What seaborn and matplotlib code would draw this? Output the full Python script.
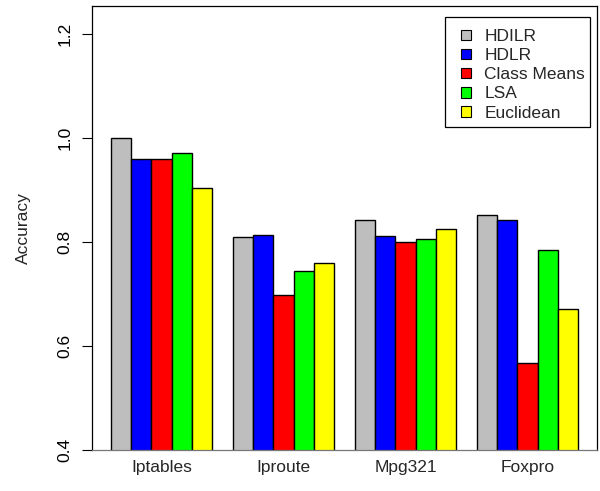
import matplotlib
matplotlib.use("Agg")
import matplotlib.pyplot as plt
from matplotlib.patches import Patch, Rectangle
import seaborn as sns
import pandas as pd

categories = ["Iptables", "Iproute", "Mpg321", "Foxpro"]
methods = ["HDILR", "HDLR", "Class Means", "LSA", "Euclidean"]
hdilr = [1.000, 0.809, 0.842, 0.852]
hdlr = [0.959, 0.813, 0.811, 0.842]
class_means = [0.959, 0.699, 0.800, 0.567]
lsa = [0.971, 0.744, 0.806, 0.785]
euclidean = [0.904, 0.759, 0.826, 0.672]
colors = ["#bebebe", "#0000ff", "#ff0000", "#00ff00", "#ffff00"]
y_ticks = [0.4, 0.6, 0.8, 1.0, 1.2]

series = [hdilr, hdlr, class_means, lsa, euclidean]
rows = []
for m, vals in zip(methods, series):
    for c, v in zip(categories, vals):
        rows.append({"Dataset": c, "Method": m, "Accuracy": v})
df = pd.DataFrame(rows)

sns.set_style("white")
plt.rcParams["font.family"] = ["Liberation Sans", "DejaVu Sans"]

FS = 12.5
W, H = 600, 491
fig = plt.figure(figsize=(6.0, 4.91), dpi=100)
ax = fig.add_axes([92 / W, 41 / H, 505 / W, 444 / H])

sns.barplot(data=df, x="Dataset", y="Accuracy", hue="Method",
            order=categories, hue_order=methods, palette=colors,
            width=5 / 6, edgecolor="black", linewidth=1.0,
            saturation=1, errorbar=None, legend=False, ax=ax)

ax.set_xlim(-0.570, 3.570)
ax.set_ylim(0.4, 1.254)
ax.set_yticks(y_ticks)
ax.set_yticklabels([f"{t:.1f}" for t in y_ticks], rotation=90, va="center", fontsize=FS)
ax.tick_params(axis="y", direction="out", length=7, width=0.8, pad=7, left=True, colors="black")
ax.tick_params(axis="x", length=0, pad=7, labelsize=FS)
ax.set_xlabel("")
ax.set_ylabel("Accuracy", fontsize=FS, labelpad=19)

for s in ["left", "top", "right"]:
    ax.spines[s].set_visible(True)
    ax.spines[s].set_color("black")
    ax.spines[s].set_linewidth(0.9)
ax.spines["bottom"].set_color("#777777")
ax.spines["bottom"].set_linewidth(0.9)

# legend frame (drawn as in R: fixed box)
fig.patches.append(Rectangle((445 / W, 1 - 127 / H), 145 / W, 110 / H,
                             transform=fig.transFigure, facecolor="white",
                             edgecolor="black", linewidth=0.9, zorder=5))

handles = [Patch(facecolor=c, edgecolor="black", linewidth=0.8) for c in colors]
leg = fig.legend(handles, methods, loc="upper left",
                 bbox_to_anchor=(461 / W, 1 - 29 / H),
                 bbox_transform=fig.transFigure,
                 fontsize=FS, frameon=False,
                 handlelength=0.6, handleheight=0.55,
                 handletextpad=0.75, labelspacing=0.24, borderpad=0,
                 borderaxespad=0)
leg.set_zorder(6)

fig.savefig("out.png", dpi=100)
